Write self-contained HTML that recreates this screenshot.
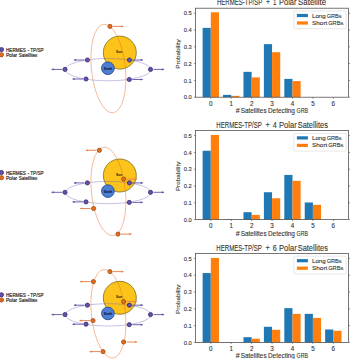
<!DOCTYPE html>
<html><head><meta charset="utf-8"><style>
html,body{margin:0;padding:0;background:#fff;width:350px;height:359px;overflow:hidden;}
svg{display:block;font-family:"Liberation Sans", sans-serif;}
</style></head><body>
<svg width="350" height="359" viewBox="0 0 350 359" font-family='"Liberation Sans", sans-serif'>
<rect width="350" height="359" fill="#fff"/>
<g transform="translate(0,0)">
<circle cx="119.8" cy="52.6" r="16.5" fill="#fcc31a" stroke="#857422" stroke-width="0.85"/>
<text x="119.2" y="52.9" font-size="3.6" font-weight="bold" text-anchor="middle" fill="#3d3508" stroke="#3d3508" stroke-width="0.08" textLength="6.2" lengthAdjust="spacingAndGlyphs">Sun</text>
<ellipse cx="108.1" cy="69.64" rx="42.7" ry="11.16" fill="none" stroke="#6f5cb8" stroke-width="0.8" stroke-opacity="0.48"/>
<ellipse cx="0" cy="0" rx="17.0" ry="44.5" transform="translate(108.4,68.56) rotate(-5.96)" fill="none" stroke="#e86a28" stroke-width="0.8" stroke-opacity="0.55"/>
<circle cx="107.9" cy="68.2" r="6.35" fill="#4c7ed4" stroke="#27468a" stroke-width="0.85"/>
<text x="108.1" y="69.8" font-size="3.5" font-weight="bold" text-anchor="middle" fill="#0c1640" stroke="#0c1640" stroke-width="0.08" textLength="8.0" lengthAdjust="spacingAndGlyphs">Earth</text>
<line x1="62" y1="69.4" x2="51.7" y2="69.4" stroke="#6252a6" stroke-width="0.9"/><path d="M51.2,69.4 L53.7,68.3 L53.7,70.5 Z" fill="#6252a6"/>
<circle cx="65" cy="69.4" r="2.1" fill="#6353a8" stroke="#30246a" stroke-width="0.75"/>
<line x1="84.4" y1="60" x2="74.1" y2="60" stroke="#6252a6" stroke-width="0.9"/><path d="M73.6,60 L76.1,58.9 L76.1,61.1 Z" fill="#6252a6"/>
<circle cx="87.4" cy="60" r="2.1" fill="#6353a8" stroke="#30246a" stroke-width="0.75"/>
<line x1="83" y1="79" x2="72.7" y2="79" stroke="#6252a6" stroke-width="0.9"/><path d="M72.2,79 L74.7,77.9 L74.7,80.1 Z" fill="#6252a6"/>
<circle cx="86" cy="79" r="2.1" fill="#6353a8" stroke="#30246a" stroke-width="0.75"/>
<line x1="132.4" y1="60" x2="142.7" y2="60" stroke="#6252a6" stroke-width="0.9"/><path d="M143.2,60 L140.7,58.9 L140.7,61.1 Z" fill="#6252a6"/>
<circle cx="129.4" cy="60" r="2.1" fill="#6353a8" stroke="#30246a" stroke-width="0.75"/>
<line x1="153.5" y1="69.4" x2="163.8" y2="69.4" stroke="#6252a6" stroke-width="0.9"/><path d="M164.3,69.4 L161.8,68.3 L161.8,70.5 Z" fill="#6252a6"/>
<circle cx="150.5" cy="69.4" r="2.1" fill="#6353a8" stroke="#30246a" stroke-width="0.75"/>
<line x1="132.3" y1="79.5" x2="142.6" y2="79.5" stroke="#6252a6" stroke-width="0.9"/><path d="M143.1,79.5 L140.6,78.4 L140.6,80.6 Z" fill="#6252a6"/>
<circle cx="129.3" cy="79.5" r="2.1" fill="#6353a8" stroke="#30246a" stroke-width="0.75"/>
<line x1="113" y1="26.4" x2="123.3" y2="26.4" stroke="#e8834a" stroke-width="0.95"/><path d="M123.8,26.4 L121.3,25.3 L121.3,27.5 Z" fill="#e8834a"/>
<circle cx="110" cy="26.4" r="2.1" fill="#e0701f" stroke="#9a400c" stroke-width="0.75"/>
<circle cx="1.5" cy="49.6" r="2.1" fill="#6353a8" stroke="#30246a" stroke-width="0.75"/>
<circle cx="1.5" cy="54.8" r="2.1" fill="#e0701f" stroke="#9a400c" stroke-width="0.75"/>
<text x="5.9" y="51.9" font-size="4.7" fill="#333" stroke="#333" stroke-width="0.2" textLength="20" lengthAdjust="spacingAndGlyphs">HERMES</text>
<text x="27.5" y="51.9" font-size="4.7" fill="#333" stroke="#333" stroke-width="0.2" textLength="1.8" lengthAdjust="spacingAndGlyphs">-</text>
<text x="30.3" y="51.9" font-size="4.7" fill="#333" stroke="#333" stroke-width="0.2" textLength="13.2" lengthAdjust="spacingAndGlyphs">TP/SP</text>
<text x="5.9" y="57.1" font-size="4.7" fill="#333" stroke="#333" stroke-width="0.2" textLength="11.3" lengthAdjust="spacingAndGlyphs">Polar</text>
<text x="18.8" y="57.1" font-size="4.7" fill="#333" stroke="#333" stroke-width="0.2" textLength="18.4" lengthAdjust="spacingAndGlyphs">Satellites</text>
</g>
<g transform="translate(0,122.9)">
<circle cx="119.8" cy="52.6" r="16.5" fill="#fcc31a" stroke="#857422" stroke-width="0.85"/>
<text x="119.2" y="52.9" font-size="3.6" font-weight="bold" text-anchor="middle" fill="#3d3508" stroke="#3d3508" stroke-width="0.08" textLength="6.2" lengthAdjust="spacingAndGlyphs">Sun</text>
<ellipse cx="108.1" cy="69.64" rx="42.7" ry="11.16" fill="none" stroke="#6f5cb8" stroke-width="0.8" stroke-opacity="0.48"/>
<ellipse cx="0" cy="0" rx="17.0" ry="44.5" transform="translate(108.4,68.56) rotate(-5.96)" fill="none" stroke="#e86a28" stroke-width="0.8" stroke-opacity="0.55"/>
<circle cx="107.9" cy="68.2" r="6.35" fill="#4c7ed4" stroke="#27468a" stroke-width="0.85"/>
<text x="108.1" y="69.8" font-size="3.5" font-weight="bold" text-anchor="middle" fill="#0c1640" stroke="#0c1640" stroke-width="0.08" textLength="8.0" lengthAdjust="spacingAndGlyphs">Earth</text>
<line x1="62" y1="69.4" x2="51.7" y2="69.4" stroke="#6252a6" stroke-width="0.9"/><path d="M51.2,69.4 L53.7,68.3 L53.7,70.5 Z" fill="#6252a6"/>
<circle cx="65" cy="69.4" r="2.1" fill="#6353a8" stroke="#30246a" stroke-width="0.75"/>
<line x1="84.4" y1="60" x2="74.1" y2="60" stroke="#6252a6" stroke-width="0.9"/><path d="M73.6,60 L76.1,58.9 L76.1,61.1 Z" fill="#6252a6"/>
<circle cx="87.4" cy="60" r="2.1" fill="#6353a8" stroke="#30246a" stroke-width="0.75"/>
<line x1="83" y1="79" x2="72.7" y2="79" stroke="#6252a6" stroke-width="0.9"/><path d="M72.2,79 L74.7,77.9 L74.7,80.1 Z" fill="#6252a6"/>
<circle cx="86" cy="79" r="2.1" fill="#6353a8" stroke="#30246a" stroke-width="0.75"/>
<line x1="132.4" y1="60" x2="142.7" y2="60" stroke="#6252a6" stroke-width="0.9"/><path d="M143.2,60 L140.7,58.9 L140.7,61.1 Z" fill="#6252a6"/>
<circle cx="129.4" cy="60" r="2.1" fill="#6353a8" stroke="#30246a" stroke-width="0.75"/>
<line x1="153.5" y1="69.4" x2="163.8" y2="69.4" stroke="#6252a6" stroke-width="0.9"/><path d="M164.3,69.4 L161.8,68.3 L161.8,70.5 Z" fill="#6252a6"/>
<circle cx="150.5" cy="69.4" r="2.1" fill="#6353a8" stroke="#30246a" stroke-width="0.75"/>
<line x1="132.3" y1="79.5" x2="142.6" y2="79.5" stroke="#6252a6" stroke-width="0.9"/><path d="M143.1,79.5 L140.6,78.4 L140.6,80.6 Z" fill="#6252a6"/>
<circle cx="129.3" cy="79.5" r="2.1" fill="#6353a8" stroke="#30246a" stroke-width="0.75"/>
<line x1="96.4" y1="27.4" x2="86.1" y2="27.4" stroke="#e8834a" stroke-width="0.95"/><path d="M85.6,27.4 L88.1,26.3 L88.1,28.5 Z" fill="#e8834a"/>
<circle cx="99.4" cy="27.4" r="2.1" fill="#e0701f" stroke="#9a400c" stroke-width="0.75"/>
<line x1="126.6" y1="56.2" x2="136.9" y2="56.2" stroke="#e8834a" stroke-width="0.95"/><path d="M137.4,56.2 L134.9,55.1 L134.9,57.3 Z" fill="#e8834a"/>
<circle cx="123.6" cy="56.2" r="2.1" fill="#e0701f" stroke="#9a400c" stroke-width="0.75"/>
<line x1="90.6" y1="85.6" x2="80.3" y2="85.6" stroke="#e8834a" stroke-width="0.95"/><path d="M79.8,85.6 L82.3,84.5 L82.3,86.7 Z" fill="#e8834a"/>
<circle cx="93.6" cy="85.6" r="2.1" fill="#e0701f" stroke="#9a400c" stroke-width="0.75"/>
<line x1="121" y1="111.2" x2="131.3" y2="111.2" stroke="#e8834a" stroke-width="0.95"/><path d="M131.8,111.2 L129.3,110.1 L129.3,112.3 Z" fill="#e8834a"/>
<circle cx="118" cy="111.2" r="2.1" fill="#e0701f" stroke="#9a400c" stroke-width="0.75"/>
<circle cx="1.5" cy="49.6" r="2.1" fill="#6353a8" stroke="#30246a" stroke-width="0.75"/>
<circle cx="1.5" cy="54.8" r="2.1" fill="#e0701f" stroke="#9a400c" stroke-width="0.75"/>
<text x="5.9" y="51.9" font-size="4.7" fill="#333" stroke="#333" stroke-width="0.2" textLength="20" lengthAdjust="spacingAndGlyphs">HERMES</text>
<text x="27.5" y="51.9" font-size="4.7" fill="#333" stroke="#333" stroke-width="0.2" textLength="1.8" lengthAdjust="spacingAndGlyphs">-</text>
<text x="30.3" y="51.9" font-size="4.7" fill="#333" stroke="#333" stroke-width="0.2" textLength="13.2" lengthAdjust="spacingAndGlyphs">TP/SP</text>
<text x="5.9" y="57.1" font-size="4.7" fill="#333" stroke="#333" stroke-width="0.2" textLength="11.3" lengthAdjust="spacingAndGlyphs">Polar</text>
<text x="18.8" y="57.1" font-size="4.7" fill="#333" stroke="#333" stroke-width="0.2" textLength="18.4" lengthAdjust="spacingAndGlyphs">Satellites</text>
</g>
<g transform="translate(0,245.2)">
<circle cx="119.8" cy="52.6" r="16.5" fill="#fcc31a" stroke="#857422" stroke-width="0.85"/>
<text x="119.2" y="52.9" font-size="3.6" font-weight="bold" text-anchor="middle" fill="#3d3508" stroke="#3d3508" stroke-width="0.08" textLength="6.2" lengthAdjust="spacingAndGlyphs">Sun</text>
<ellipse cx="108.1" cy="69.64" rx="42.7" ry="11.16" fill="none" stroke="#6f5cb8" stroke-width="0.8" stroke-opacity="0.48"/>
<ellipse cx="0" cy="0" rx="17.0" ry="44.5" transform="translate(108.4,68.56) rotate(-5.96)" fill="none" stroke="#e86a28" stroke-width="0.8" stroke-opacity="0.55"/>
<circle cx="107.9" cy="68.2" r="6.35" fill="#4c7ed4" stroke="#27468a" stroke-width="0.85"/>
<text x="108.1" y="69.8" font-size="3.5" font-weight="bold" text-anchor="middle" fill="#0c1640" stroke="#0c1640" stroke-width="0.08" textLength="8.0" lengthAdjust="spacingAndGlyphs">Earth</text>
<line x1="62" y1="69.4" x2="51.7" y2="69.4" stroke="#6252a6" stroke-width="0.9"/><path d="M51.2,69.4 L53.7,68.3 L53.7,70.5 Z" fill="#6252a6"/>
<circle cx="65" cy="69.4" r="2.1" fill="#6353a8" stroke="#30246a" stroke-width="0.75"/>
<line x1="84.4" y1="60" x2="74.1" y2="60" stroke="#6252a6" stroke-width="0.9"/><path d="M73.6,60 L76.1,58.9 L76.1,61.1 Z" fill="#6252a6"/>
<circle cx="87.4" cy="60" r="2.1" fill="#6353a8" stroke="#30246a" stroke-width="0.75"/>
<line x1="83" y1="79" x2="72.7" y2="79" stroke="#6252a6" stroke-width="0.9"/><path d="M72.2,79 L74.7,77.9 L74.7,80.1 Z" fill="#6252a6"/>
<circle cx="86" cy="79" r="2.1" fill="#6353a8" stroke="#30246a" stroke-width="0.75"/>
<line x1="132.4" y1="60" x2="142.7" y2="60" stroke="#6252a6" stroke-width="0.9"/><path d="M143.2,60 L140.7,58.9 L140.7,61.1 Z" fill="#6252a6"/>
<circle cx="129.4" cy="60" r="2.1" fill="#6353a8" stroke="#30246a" stroke-width="0.75"/>
<line x1="153.5" y1="69.4" x2="163.8" y2="69.4" stroke="#6252a6" stroke-width="0.9"/><path d="M164.3,69.4 L161.8,68.3 L161.8,70.5 Z" fill="#6252a6"/>
<circle cx="150.5" cy="69.4" r="2.1" fill="#6353a8" stroke="#30246a" stroke-width="0.75"/>
<line x1="132.3" y1="79.5" x2="142.6" y2="79.5" stroke="#6252a6" stroke-width="0.9"/><path d="M143.1,79.5 L140.6,78.4 L140.6,80.6 Z" fill="#6252a6"/>
<circle cx="129.3" cy="79.5" r="2.1" fill="#6353a8" stroke="#30246a" stroke-width="0.75"/>
<line x1="113" y1="26.4" x2="123.3" y2="26.4" stroke="#e8834a" stroke-width="0.95"/><path d="M123.8,26.4 L121.3,25.3 L121.3,27.5 Z" fill="#e8834a"/>
<circle cx="110" cy="26.4" r="2.1" fill="#e0701f" stroke="#9a400c" stroke-width="0.75"/>
<line x1="90.4" y1="36.4" x2="80.1" y2="36.4" stroke="#e8834a" stroke-width="0.95"/><path d="M79.6,36.4 L82.1,35.3 L82.1,37.5 Z" fill="#e8834a"/>
<circle cx="93.4" cy="36.4" r="2.1" fill="#e0701f" stroke="#9a400c" stroke-width="0.75"/>
<line x1="126.6" y1="56.4" x2="136.9" y2="56.4" stroke="#e8834a" stroke-width="0.95"/><path d="M137.4,56.4 L134.9,55.3 L134.9,57.5 Z" fill="#e8834a"/>
<circle cx="123.6" cy="56.4" r="2.1" fill="#e0701f" stroke="#9a400c" stroke-width="0.75"/>
<line x1="90" y1="75.4" x2="79.7" y2="75.4" stroke="#e8834a" stroke-width="0.95"/><path d="M79.2,75.4 L81.7,74.3 L81.7,76.5 Z" fill="#e8834a"/>
<circle cx="93" cy="75.4" r="2.1" fill="#e0701f" stroke="#9a400c" stroke-width="0.75"/>
<line x1="126.6" y1="96.8" x2="136.9" y2="96.8" stroke="#e8834a" stroke-width="0.95"/><path d="M137.4,96.8 L134.9,95.7 L134.9,97.9 Z" fill="#e8834a"/>
<circle cx="123.6" cy="96.8" r="2.1" fill="#e0701f" stroke="#9a400c" stroke-width="0.75"/>
<line x1="100" y1="106.4" x2="89.7" y2="106.4" stroke="#e8834a" stroke-width="0.95"/><path d="M89.2,106.4 L91.7,105.3 L91.7,107.5 Z" fill="#e8834a"/>
<circle cx="103" cy="106.4" r="2.1" fill="#e0701f" stroke="#9a400c" stroke-width="0.75"/>
<circle cx="1.5" cy="49.6" r="2.1" fill="#6353a8" stroke="#30246a" stroke-width="0.75"/>
<circle cx="1.5" cy="54.8" r="2.1" fill="#e0701f" stroke="#9a400c" stroke-width="0.75"/>
<text x="5.9" y="51.9" font-size="4.7" fill="#333" stroke="#333" stroke-width="0.2" textLength="20" lengthAdjust="spacingAndGlyphs">HERMES</text>
<text x="27.5" y="51.9" font-size="4.7" fill="#333" stroke="#333" stroke-width="0.2" textLength="1.8" lengthAdjust="spacingAndGlyphs">-</text>
<text x="30.3" y="51.9" font-size="4.7" fill="#333" stroke="#333" stroke-width="0.2" textLength="13.2" lengthAdjust="spacingAndGlyphs">TP/SP</text>
<text x="5.9" y="57.1" font-size="4.7" fill="#333" stroke="#333" stroke-width="0.2" textLength="11.3" lengthAdjust="spacingAndGlyphs">Polar</text>
<text x="18.8" y="57.1" font-size="4.7" fill="#333" stroke="#333" stroke-width="0.2" textLength="18.4" lengthAdjust="spacingAndGlyphs">Satellites</text>
</g>
<rect x="202.63" y="27.85" width="8.17" height="69.35" fill="#1f77b4"/>
<rect x="210.8" y="12.23" width="8.17" height="84.97" fill="#ff7f0e"/>
<rect x="223.05" y="94.85" width="8.17" height="2.35" fill="#1f77b4"/>
<rect x="231.22" y="95.86" width="8.17" height="1.34" fill="#ff7f0e"/>
<rect x="243.47" y="71.84" width="8.17" height="25.36" fill="#1f77b4"/>
<rect x="251.64" y="77.38" width="8.17" height="19.82" fill="#ff7f0e"/>
<rect x="263.89" y="44.14" width="8.17" height="53.06" fill="#1f77b4"/>
<rect x="272.06" y="52.2" width="8.17" height="45" fill="#ff7f0e"/>
<rect x="284.31" y="78.9" width="8.17" height="18.3" fill="#1f77b4"/>
<rect x="292.48" y="81.08" width="8.17" height="16.12" fill="#ff7f0e"/>
<rect x="195.4" y="8.2" width="153.2" height="89" fill="none" stroke="#4a4a4a" stroke-width="0.75"/>
<line x1="193.9" y1="97.2" x2="195.4" y2="97.2" stroke="#4a4a4a" stroke-width="0.6"/>
<line x1="348.6" y1="97.2" x2="350.1" y2="97.2" stroke="#4a4a4a" stroke-width="0.6"/>
<text x="191.8" y="99.4" font-size="6.1" text-anchor="end" fill="#333" stroke="#333" stroke-width="0.1" textLength="8" lengthAdjust="spacingAndGlyphs">0.0</text>
<line x1="193.9" y1="80.41" x2="195.4" y2="80.41" stroke="#4a4a4a" stroke-width="0.6"/>
<line x1="348.6" y1="80.41" x2="350.1" y2="80.41" stroke="#4a4a4a" stroke-width="0.6"/>
<text x="191.8" y="82.61" font-size="6.1" text-anchor="end" fill="#333" stroke="#333" stroke-width="0.1" textLength="8" lengthAdjust="spacingAndGlyphs">0.1</text>
<line x1="193.9" y1="63.62" x2="195.4" y2="63.62" stroke="#4a4a4a" stroke-width="0.6"/>
<line x1="348.6" y1="63.62" x2="350.1" y2="63.62" stroke="#4a4a4a" stroke-width="0.6"/>
<text x="191.8" y="65.82" font-size="6.1" text-anchor="end" fill="#333" stroke="#333" stroke-width="0.1" textLength="8" lengthAdjust="spacingAndGlyphs">0.2</text>
<line x1="193.9" y1="46.82" x2="195.4" y2="46.82" stroke="#4a4a4a" stroke-width="0.6"/>
<line x1="348.6" y1="46.82" x2="350.1" y2="46.82" stroke="#4a4a4a" stroke-width="0.6"/>
<text x="191.8" y="49.02" font-size="6.1" text-anchor="end" fill="#333" stroke="#333" stroke-width="0.1" textLength="8" lengthAdjust="spacingAndGlyphs">0.3</text>
<line x1="193.9" y1="30.03" x2="195.4" y2="30.03" stroke="#4a4a4a" stroke-width="0.6"/>
<line x1="348.6" y1="30.03" x2="350.1" y2="30.03" stroke="#4a4a4a" stroke-width="0.6"/>
<text x="191.8" y="32.23" font-size="6.1" text-anchor="end" fill="#333" stroke="#333" stroke-width="0.1" textLength="8" lengthAdjust="spacingAndGlyphs">0.4</text>
<line x1="193.9" y1="13.24" x2="195.4" y2="13.24" stroke="#4a4a4a" stroke-width="0.6"/>
<line x1="348.6" y1="13.24" x2="350.1" y2="13.24" stroke="#4a4a4a" stroke-width="0.6"/>
<text x="191.8" y="15.44" font-size="6.1" text-anchor="end" fill="#333" stroke="#333" stroke-width="0.1" textLength="8" lengthAdjust="spacingAndGlyphs">0.5</text>
<line x1="210.8" y1="97.2" x2="210.8" y2="98.7" stroke="#4a4a4a" stroke-width="0.6"/>
<text x="210.8" y="105.8" font-size="6.3" text-anchor="middle" fill="#333" stroke="#333" stroke-width="0.1">0</text>
<line x1="231.22" y1="97.2" x2="231.22" y2="98.7" stroke="#4a4a4a" stroke-width="0.6"/>
<text x="231.22" y="105.8" font-size="6.3" text-anchor="middle" fill="#333" stroke="#333" stroke-width="0.1">1</text>
<line x1="251.64" y1="97.2" x2="251.64" y2="98.7" stroke="#4a4a4a" stroke-width="0.6"/>
<text x="251.64" y="105.8" font-size="6.3" text-anchor="middle" fill="#333" stroke="#333" stroke-width="0.1">2</text>
<line x1="272.06" y1="97.2" x2="272.06" y2="98.7" stroke="#4a4a4a" stroke-width="0.6"/>
<text x="272.06" y="105.8" font-size="6.3" text-anchor="middle" fill="#333" stroke="#333" stroke-width="0.1">3</text>
<line x1="292.48" y1="97.2" x2="292.48" y2="98.7" stroke="#4a4a4a" stroke-width="0.6"/>
<text x="292.48" y="105.8" font-size="6.3" text-anchor="middle" fill="#333" stroke="#333" stroke-width="0.1">4</text>
<line x1="312.9" y1="97.2" x2="312.9" y2="98.7" stroke="#4a4a4a" stroke-width="0.6"/>
<text x="312.9" y="105.8" font-size="6.3" text-anchor="middle" fill="#333" stroke="#333" stroke-width="0.1">5</text>
<line x1="333.32" y1="97.2" x2="333.32" y2="98.7" stroke="#4a4a4a" stroke-width="0.6"/>
<text x="333.32" y="105.8" font-size="6.3" text-anchor="middle" fill="#333" stroke="#333" stroke-width="0.1">6</text>
<text x="216.9" y="5.35" font-size="8.3" fill="#333" stroke="#333" stroke-width="0.1" textLength="45.4" lengthAdjust="spacingAndGlyphs">HERMES-TP/SP</text>
<text x="265.9" y="5.35" font-size="8.3" fill="#333" stroke="#333" stroke-width="0.1" textLength="4" lengthAdjust="spacingAndGlyphs">+</text>
<text x="273.1" y="5.35" font-size="8.3" fill="#333" stroke="#333" stroke-width="0.1" textLength="3.4" lengthAdjust="spacingAndGlyphs">1</text>
<text x="279.1" y="5.35" font-size="8.3" fill="#333" stroke="#333" stroke-width="0.1" textLength="17.3" lengthAdjust="spacingAndGlyphs">Polar</text>
<text x="298" y="5.35" font-size="8.3" fill="#333" stroke="#333" stroke-width="0.1" textLength="28.2" lengthAdjust="spacingAndGlyphs">Satellite</text>
<text x="235.7" y="113.1" font-size="6.3" fill="#333" stroke="#333" stroke-width="0.1" textLength="4" lengthAdjust="spacingAndGlyphs">#</text>
<text x="240.8" y="113.1" font-size="6.3" fill="#333" stroke="#333" stroke-width="0.1" textLength="25.8" lengthAdjust="spacingAndGlyphs">Satellites</text>
<text x="268" y="113.1" font-size="6.3" fill="#333" stroke="#333" stroke-width="0.1" textLength="26.9" lengthAdjust="spacingAndGlyphs">Detecting</text>
<text x="296.6" y="113.1" font-size="6.3" fill="#333" stroke="#333" stroke-width="0.1" textLength="11.4" lengthAdjust="spacingAndGlyphs">GRB</text>
<text transform="translate(180.1,54) rotate(-90)" x="0" y="0" font-size="5.9" text-anchor="middle" fill="#333" stroke="#333" stroke-width="0.1" textLength="29.4" lengthAdjust="spacingAndGlyphs">Probability</text>
<rect x="293.8" y="11" width="52.4" height="17.7" rx="1.2" fill="#fff" fill-opacity="0.8" stroke="#d8d8d8" stroke-width="0.6"/>
<rect x="296.9" y="13.9" width="11" height="3.2" fill="#1f77b4"/>
<rect x="296.9" y="21.4" width="11" height="3.2" fill="#ff7f0e"/>
<text x="312" y="17.8" font-size="6.1" fill="#333" stroke="#333" stroke-width="0.1" textLength="13.7" lengthAdjust="spacingAndGlyphs">Long</text>
<text x="326.7" y="17.8" font-size="6.1" fill="#333" stroke="#333" stroke-width="0.1" textLength="15" lengthAdjust="spacingAndGlyphs">GRBs</text>
<text x="312" y="25" font-size="6.1" fill="#333" stroke="#333" stroke-width="0.1" textLength="15.3" lengthAdjust="spacingAndGlyphs">Short</text>
<text x="328.2" y="25" font-size="6.1" fill="#333" stroke="#333" stroke-width="0.1" textLength="15.2" lengthAdjust="spacingAndGlyphs">GRBs</text>
<rect x="202.63" y="150.75" width="8.17" height="68.85" fill="#1f77b4"/>
<rect x="210.8" y="134.97" width="8.17" height="84.63" fill="#ff7f0e"/>
<rect x="223.05" y="219.26" width="8.17" height="0.34" fill="#1f77b4"/>
<rect x="231.22" y="219.43" width="8.17" height="0.17" fill="#ff7f0e"/>
<rect x="243.47" y="212.21" width="8.17" height="7.39" fill="#1f77b4"/>
<rect x="251.64" y="214.9" width="8.17" height="4.7" fill="#ff7f0e"/>
<rect x="263.89" y="192.23" width="8.17" height="27.37" fill="#1f77b4"/>
<rect x="272.06" y="198.27" width="8.17" height="21.33" fill="#ff7f0e"/>
<rect x="284.31" y="174.93" width="8.17" height="44.67" fill="#1f77b4"/>
<rect x="292.48" y="180.81" width="8.17" height="38.79" fill="#ff7f0e"/>
<rect x="304.73" y="202.47" width="8.17" height="17.13" fill="#1f77b4"/>
<rect x="312.9" y="204.82" width="8.17" height="14.78" fill="#ff7f0e"/>
<rect x="195.4" y="130.6" width="153.2" height="89" fill="none" stroke="#4a4a4a" stroke-width="0.75"/>
<line x1="193.9" y1="219.6" x2="195.4" y2="219.6" stroke="#4a4a4a" stroke-width="0.6"/>
<line x1="348.6" y1="219.6" x2="350.1" y2="219.6" stroke="#4a4a4a" stroke-width="0.6"/>
<text x="191.8" y="221.8" font-size="6.1" text-anchor="end" fill="#333" stroke="#333" stroke-width="0.1" textLength="8" lengthAdjust="spacingAndGlyphs">0.0</text>
<line x1="193.9" y1="202.81" x2="195.4" y2="202.81" stroke="#4a4a4a" stroke-width="0.6"/>
<line x1="348.6" y1="202.81" x2="350.1" y2="202.81" stroke="#4a4a4a" stroke-width="0.6"/>
<text x="191.8" y="205.01" font-size="6.1" text-anchor="end" fill="#333" stroke="#333" stroke-width="0.1" textLength="8" lengthAdjust="spacingAndGlyphs">0.1</text>
<line x1="193.9" y1="186.02" x2="195.4" y2="186.02" stroke="#4a4a4a" stroke-width="0.6"/>
<line x1="348.6" y1="186.02" x2="350.1" y2="186.02" stroke="#4a4a4a" stroke-width="0.6"/>
<text x="191.8" y="188.22" font-size="6.1" text-anchor="end" fill="#333" stroke="#333" stroke-width="0.1" textLength="8" lengthAdjust="spacingAndGlyphs">0.2</text>
<line x1="193.9" y1="169.22" x2="195.4" y2="169.22" stroke="#4a4a4a" stroke-width="0.6"/>
<line x1="348.6" y1="169.22" x2="350.1" y2="169.22" stroke="#4a4a4a" stroke-width="0.6"/>
<text x="191.8" y="171.42" font-size="6.1" text-anchor="end" fill="#333" stroke="#333" stroke-width="0.1" textLength="8" lengthAdjust="spacingAndGlyphs">0.3</text>
<line x1="193.9" y1="152.43" x2="195.4" y2="152.43" stroke="#4a4a4a" stroke-width="0.6"/>
<line x1="348.6" y1="152.43" x2="350.1" y2="152.43" stroke="#4a4a4a" stroke-width="0.6"/>
<text x="191.8" y="154.63" font-size="6.1" text-anchor="end" fill="#333" stroke="#333" stroke-width="0.1" textLength="8" lengthAdjust="spacingAndGlyphs">0.4</text>
<line x1="193.9" y1="135.64" x2="195.4" y2="135.64" stroke="#4a4a4a" stroke-width="0.6"/>
<line x1="348.6" y1="135.64" x2="350.1" y2="135.64" stroke="#4a4a4a" stroke-width="0.6"/>
<text x="191.8" y="137.84" font-size="6.1" text-anchor="end" fill="#333" stroke="#333" stroke-width="0.1" textLength="8" lengthAdjust="spacingAndGlyphs">0.5</text>
<line x1="210.8" y1="219.6" x2="210.8" y2="221.1" stroke="#4a4a4a" stroke-width="0.6"/>
<text x="210.8" y="228.2" font-size="6.3" text-anchor="middle" fill="#333" stroke="#333" stroke-width="0.1">0</text>
<line x1="231.22" y1="219.6" x2="231.22" y2="221.1" stroke="#4a4a4a" stroke-width="0.6"/>
<text x="231.22" y="228.2" font-size="6.3" text-anchor="middle" fill="#333" stroke="#333" stroke-width="0.1">1</text>
<line x1="251.64" y1="219.6" x2="251.64" y2="221.1" stroke="#4a4a4a" stroke-width="0.6"/>
<text x="251.64" y="228.2" font-size="6.3" text-anchor="middle" fill="#333" stroke="#333" stroke-width="0.1">2</text>
<line x1="272.06" y1="219.6" x2="272.06" y2="221.1" stroke="#4a4a4a" stroke-width="0.6"/>
<text x="272.06" y="228.2" font-size="6.3" text-anchor="middle" fill="#333" stroke="#333" stroke-width="0.1">3</text>
<line x1="292.48" y1="219.6" x2="292.48" y2="221.1" stroke="#4a4a4a" stroke-width="0.6"/>
<text x="292.48" y="228.2" font-size="6.3" text-anchor="middle" fill="#333" stroke="#333" stroke-width="0.1">4</text>
<line x1="312.9" y1="219.6" x2="312.9" y2="221.1" stroke="#4a4a4a" stroke-width="0.6"/>
<text x="312.9" y="228.2" font-size="6.3" text-anchor="middle" fill="#333" stroke="#333" stroke-width="0.1">5</text>
<line x1="333.32" y1="219.6" x2="333.32" y2="221.1" stroke="#4a4a4a" stroke-width="0.6"/>
<text x="333.32" y="228.2" font-size="6.3" text-anchor="middle" fill="#333" stroke="#333" stroke-width="0.1">6</text>
<text x="216.3" y="127.75" font-size="8.3" fill="#333" stroke="#333" stroke-width="0.1" textLength="45.6" lengthAdjust="spacingAndGlyphs">HERMES-TP/SP</text>
<text x="265.6" y="127.75" font-size="8.3" fill="#333" stroke="#333" stroke-width="0.1" textLength="4.3" lengthAdjust="spacingAndGlyphs">+</text>
<text x="272.7" y="127.75" font-size="8.3" fill="#333" stroke="#333" stroke-width="0.1" textLength="4" lengthAdjust="spacingAndGlyphs">4</text>
<text x="279" y="127.75" font-size="8.3" fill="#333" stroke="#333" stroke-width="0.1" textLength="17.7" lengthAdjust="spacingAndGlyphs">Polar</text>
<text x="297.7" y="127.75" font-size="8.3" fill="#333" stroke="#333" stroke-width="0.1" textLength="30.2" lengthAdjust="spacingAndGlyphs">Satellites</text>
<text x="235.7" y="235.5" font-size="6.3" fill="#333" stroke="#333" stroke-width="0.1" textLength="4" lengthAdjust="spacingAndGlyphs">#</text>
<text x="240.8" y="235.5" font-size="6.3" fill="#333" stroke="#333" stroke-width="0.1" textLength="25.8" lengthAdjust="spacingAndGlyphs">Satellites</text>
<text x="268" y="235.5" font-size="6.3" fill="#333" stroke="#333" stroke-width="0.1" textLength="26.9" lengthAdjust="spacingAndGlyphs">Detecting</text>
<text x="296.6" y="235.5" font-size="6.3" fill="#333" stroke="#333" stroke-width="0.1" textLength="11.4" lengthAdjust="spacingAndGlyphs">GRB</text>
<text transform="translate(180.1,176.4) rotate(-90)" x="0" y="0" font-size="5.9" text-anchor="middle" fill="#333" stroke="#333" stroke-width="0.1" textLength="29.4" lengthAdjust="spacingAndGlyphs">Probability</text>
<rect x="293.8" y="133.4" width="52.4" height="17.7" rx="1.2" fill="#fff" fill-opacity="0.8" stroke="#d8d8d8" stroke-width="0.6"/>
<rect x="296.9" y="136.3" width="11" height="3.2" fill="#1f77b4"/>
<rect x="296.9" y="143.8" width="11" height="3.2" fill="#ff7f0e"/>
<text x="312" y="140.2" font-size="6.1" fill="#333" stroke="#333" stroke-width="0.1" textLength="13.7" lengthAdjust="spacingAndGlyphs">Long</text>
<text x="326.7" y="140.2" font-size="6.1" fill="#333" stroke="#333" stroke-width="0.1" textLength="15" lengthAdjust="spacingAndGlyphs">GRBs</text>
<text x="312" y="147.4" font-size="6.1" fill="#333" stroke="#333" stroke-width="0.1" textLength="15.3" lengthAdjust="spacingAndGlyphs">Short</text>
<text x="328.2" y="147.4" font-size="6.1" fill="#333" stroke="#333" stroke-width="0.1" textLength="15.2" lengthAdjust="spacingAndGlyphs">GRBs</text>
<rect x="202.63" y="273.05" width="8.17" height="69.35" fill="#1f77b4"/>
<rect x="210.8" y="257.93" width="8.17" height="84.47" fill="#ff7f0e"/>
<rect x="223.05" y="342.23" width="8.17" height="0.17" fill="#1f77b4"/>
<rect x="243.47" y="337.19" width="8.17" height="5.21" fill="#1f77b4"/>
<rect x="251.64" y="338.71" width="8.17" height="3.69" fill="#ff7f0e"/>
<rect x="263.89" y="326.78" width="8.17" height="15.62" fill="#1f77b4"/>
<rect x="272.06" y="329.81" width="8.17" height="12.59" fill="#ff7f0e"/>
<rect x="284.31" y="308.14" width="8.17" height="34.26" fill="#1f77b4"/>
<rect x="292.48" y="313.85" width="8.17" height="28.55" fill="#ff7f0e"/>
<rect x="304.73" y="313.85" width="8.17" height="28.55" fill="#1f77b4"/>
<rect x="312.9" y="317.88" width="8.17" height="24.52" fill="#ff7f0e"/>
<rect x="325.15" y="329.47" width="8.17" height="12.93" fill="#1f77b4"/>
<rect x="333.32" y="330.81" width="8.17" height="11.59" fill="#ff7f0e"/>
<rect x="195.4" y="253.4" width="153.2" height="89" fill="none" stroke="#4a4a4a" stroke-width="0.75"/>
<line x1="193.9" y1="342.4" x2="195.4" y2="342.4" stroke="#4a4a4a" stroke-width="0.6"/>
<line x1="348.6" y1="342.4" x2="350.1" y2="342.4" stroke="#4a4a4a" stroke-width="0.6"/>
<text x="191.8" y="344.6" font-size="6.1" text-anchor="end" fill="#333" stroke="#333" stroke-width="0.1" textLength="8" lengthAdjust="spacingAndGlyphs">0.0</text>
<line x1="193.9" y1="325.61" x2="195.4" y2="325.61" stroke="#4a4a4a" stroke-width="0.6"/>
<line x1="348.6" y1="325.61" x2="350.1" y2="325.61" stroke="#4a4a4a" stroke-width="0.6"/>
<text x="191.8" y="327.81" font-size="6.1" text-anchor="end" fill="#333" stroke="#333" stroke-width="0.1" textLength="8" lengthAdjust="spacingAndGlyphs">0.1</text>
<line x1="193.9" y1="308.82" x2="195.4" y2="308.82" stroke="#4a4a4a" stroke-width="0.6"/>
<line x1="348.6" y1="308.82" x2="350.1" y2="308.82" stroke="#4a4a4a" stroke-width="0.6"/>
<text x="191.8" y="311.02" font-size="6.1" text-anchor="end" fill="#333" stroke="#333" stroke-width="0.1" textLength="8" lengthAdjust="spacingAndGlyphs">0.2</text>
<line x1="193.9" y1="292.02" x2="195.4" y2="292.02" stroke="#4a4a4a" stroke-width="0.6"/>
<line x1="348.6" y1="292.02" x2="350.1" y2="292.02" stroke="#4a4a4a" stroke-width="0.6"/>
<text x="191.8" y="294.22" font-size="6.1" text-anchor="end" fill="#333" stroke="#333" stroke-width="0.1" textLength="8" lengthAdjust="spacingAndGlyphs">0.3</text>
<line x1="193.9" y1="275.23" x2="195.4" y2="275.23" stroke="#4a4a4a" stroke-width="0.6"/>
<line x1="348.6" y1="275.23" x2="350.1" y2="275.23" stroke="#4a4a4a" stroke-width="0.6"/>
<text x="191.8" y="277.43" font-size="6.1" text-anchor="end" fill="#333" stroke="#333" stroke-width="0.1" textLength="8" lengthAdjust="spacingAndGlyphs">0.4</text>
<line x1="193.9" y1="258.44" x2="195.4" y2="258.44" stroke="#4a4a4a" stroke-width="0.6"/>
<line x1="348.6" y1="258.44" x2="350.1" y2="258.44" stroke="#4a4a4a" stroke-width="0.6"/>
<text x="191.8" y="260.64" font-size="6.1" text-anchor="end" fill="#333" stroke="#333" stroke-width="0.1" textLength="8" lengthAdjust="spacingAndGlyphs">0.5</text>
<line x1="210.8" y1="342.4" x2="210.8" y2="343.9" stroke="#4a4a4a" stroke-width="0.6"/>
<text x="210.8" y="351" font-size="6.3" text-anchor="middle" fill="#333" stroke="#333" stroke-width="0.1">0</text>
<line x1="231.22" y1="342.4" x2="231.22" y2="343.9" stroke="#4a4a4a" stroke-width="0.6"/>
<text x="231.22" y="351" font-size="6.3" text-anchor="middle" fill="#333" stroke="#333" stroke-width="0.1">1</text>
<line x1="251.64" y1="342.4" x2="251.64" y2="343.9" stroke="#4a4a4a" stroke-width="0.6"/>
<text x="251.64" y="351" font-size="6.3" text-anchor="middle" fill="#333" stroke="#333" stroke-width="0.1">2</text>
<line x1="272.06" y1="342.4" x2="272.06" y2="343.9" stroke="#4a4a4a" stroke-width="0.6"/>
<text x="272.06" y="351" font-size="6.3" text-anchor="middle" fill="#333" stroke="#333" stroke-width="0.1">3</text>
<line x1="292.48" y1="342.4" x2="292.48" y2="343.9" stroke="#4a4a4a" stroke-width="0.6"/>
<text x="292.48" y="351" font-size="6.3" text-anchor="middle" fill="#333" stroke="#333" stroke-width="0.1">4</text>
<line x1="312.9" y1="342.4" x2="312.9" y2="343.9" stroke="#4a4a4a" stroke-width="0.6"/>
<text x="312.9" y="351" font-size="6.3" text-anchor="middle" fill="#333" stroke="#333" stroke-width="0.1">5</text>
<line x1="333.32" y1="342.4" x2="333.32" y2="343.9" stroke="#4a4a4a" stroke-width="0.6"/>
<text x="333.32" y="351" font-size="6.3" text-anchor="middle" fill="#333" stroke="#333" stroke-width="0.1">6</text>
<text x="216.3" y="250.55" font-size="8.3" fill="#333" stroke="#333" stroke-width="0.1" textLength="45.6" lengthAdjust="spacingAndGlyphs">HERMES-TP/SP</text>
<text x="265.6" y="250.55" font-size="8.3" fill="#333" stroke="#333" stroke-width="0.1" textLength="4.3" lengthAdjust="spacingAndGlyphs">+</text>
<text x="272.7" y="250.55" font-size="8.3" fill="#333" stroke="#333" stroke-width="0.1" textLength="4" lengthAdjust="spacingAndGlyphs">6</text>
<text x="279" y="250.55" font-size="8.3" fill="#333" stroke="#333" stroke-width="0.1" textLength="17.7" lengthAdjust="spacingAndGlyphs">Polar</text>
<text x="297.7" y="250.55" font-size="8.3" fill="#333" stroke="#333" stroke-width="0.1" textLength="30.2" lengthAdjust="spacingAndGlyphs">Satellites</text>
<text x="235.7" y="358.3" font-size="6.3" fill="#333" stroke="#333" stroke-width="0.1" textLength="4" lengthAdjust="spacingAndGlyphs">#</text>
<text x="240.8" y="358.3" font-size="6.3" fill="#333" stroke="#333" stroke-width="0.1" textLength="25.8" lengthAdjust="spacingAndGlyphs">Satellites</text>
<text x="268" y="358.3" font-size="6.3" fill="#333" stroke="#333" stroke-width="0.1" textLength="26.9" lengthAdjust="spacingAndGlyphs">Detecting</text>
<text x="296.6" y="358.3" font-size="6.3" fill="#333" stroke="#333" stroke-width="0.1" textLength="11.4" lengthAdjust="spacingAndGlyphs">GRB</text>
<text transform="translate(180.1,299.2) rotate(-90)" x="0" y="0" font-size="5.9" text-anchor="middle" fill="#333" stroke="#333" stroke-width="0.1" textLength="29.4" lengthAdjust="spacingAndGlyphs">Probability</text>
<rect x="293.8" y="256.2" width="52.4" height="17.7" rx="1.2" fill="#fff" fill-opacity="0.8" stroke="#d8d8d8" stroke-width="0.6"/>
<rect x="296.9" y="259.1" width="11" height="3.2" fill="#1f77b4"/>
<rect x="296.9" y="266.6" width="11" height="3.2" fill="#ff7f0e"/>
<text x="312" y="263" font-size="6.1" fill="#333" stroke="#333" stroke-width="0.1" textLength="13.7" lengthAdjust="spacingAndGlyphs">Long</text>
<text x="326.7" y="263" font-size="6.1" fill="#333" stroke="#333" stroke-width="0.1" textLength="15" lengthAdjust="spacingAndGlyphs">GRBs</text>
<text x="312" y="270.2" font-size="6.1" fill="#333" stroke="#333" stroke-width="0.1" textLength="15.3" lengthAdjust="spacingAndGlyphs">Short</text>
<text x="328.2" y="270.2" font-size="6.1" fill="#333" stroke="#333" stroke-width="0.1" textLength="15.2" lengthAdjust="spacingAndGlyphs">GRBs</text>
</svg>
</body></html>
